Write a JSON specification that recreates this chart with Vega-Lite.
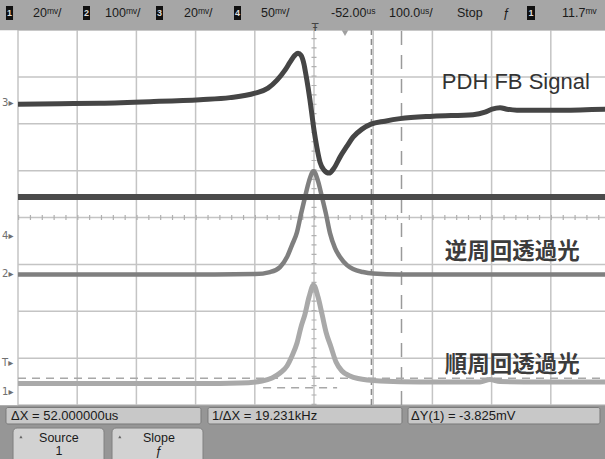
{
  "$schema": "https://vega.github.io/schema/vega-lite/v6.json",
  "width": 605,
  "height": 459,
  "autosize": {"type": "none"},
  "padding": 0,
  "background": "#ffffff",
  "config": {"view": {"stroke": null}},
  "datasets": {
    "vgrid": [{"x":0,"y":0,"y2":8},{"x":1,"y":0,"y2":8},{"x":2,"y":0,"y2":8},{"x":3,"y":0,"y2":8},{"x":4,"y":0,"y2":8},{"x":5,"y":0,"y2":8},{"x":6,"y":0,"y2":8},{"x":7,"y":0,"y2":8},{"x":8,"y":0,"y2":8},{"x":9,"y":0,"y2":8},{"x":10,"y":0,"y2":8}],
    "hgrid": [{"y":0,"x":0,"x2":10},{"y":1,"x":0,"x2":10},{"y":2,"x":0,"x2":10},{"y":3,"x":0,"x2":10},{"y":4,"x":0,"x2":10},{"y":5,"x":0,"x2":10},{"y":6,"x":0,"x2":10},{"y":7,"x":0,"x2":10},{"y":8,"x":0,"x2":10}],
    "traces": [
      {"ch":"PDH","x":0,"y":6.418},{"ch":"PDH","x":0.709,"y":6.429},{"ch":"PDH","x":1.385,"y":6.439},{"ch":"PDH","x":2.23,"y":6.471},{"ch":"PDH","x":3.074,"y":6.514},{"ch":"PDH","x":3.581,"y":6.557},{"ch":"PDH","x":4.003,"y":6.652},{"ch":"PDH","x":4.223,"y":6.759},{"ch":"PDH","x":4.375,"y":6.93},{"ch":"PDH","x":4.51,"y":7.143},{"ch":"PDH","x":4.595,"y":7.313},{"ch":"PDH","x":4.679,"y":7.463},{"ch":"PDH","x":4.73,"y":7.505},{"ch":"PDH","x":4.78,"y":7.463},{"ch":"PDH","x":4.831,"y":7.271},{"ch":"PDH","x":4.865,"y":7.036},{"ch":"PDH","x":4.899,"y":6.78},{"ch":"PDH","x":4.932,"y":6.503},{"ch":"PDH","x":4.966,"y":6.183},{"ch":"PDH","x":5.0,"y":5.864},{"ch":"PDH","x":5.051,"y":5.48},{"ch":"PDH","x":5.101,"y":5.181},{"ch":"PDH","x":5.169,"y":5.011},{"ch":"PDH","x":5.253,"y":4.947},{"ch":"PDH","x":5.338,"y":5.053},{"ch":"PDH","x":5.439,"y":5.288},{"ch":"PDH","x":5.557,"y":5.522},{"ch":"PDH","x":5.659,"y":5.714},{"ch":"PDH","x":5.811,"y":5.885},{"ch":"PDH","x":5.963,"y":5.991},{"ch":"PDH","x":6.199,"y":6.055},{"ch":"PDH","x":6.453,"y":6.109},{"ch":"PDH","x":7.01,"y":6.162},{"ch":"PDH","x":7.686,"y":6.194},{"ch":"PDH","x":7.889,"y":6.247},{"ch":"PDH","x":8.007,"y":6.311},{"ch":"PDH","x":8.142,"y":6.343},{"ch":"PDH","x":8.26,"y":6.311},{"ch":"PDH","x":8.429,"y":6.29},{"ch":"PDH","x":8.818,"y":6.29},{"ch":"PDH","x":9.274,"y":6.29},{"ch":"PDH","x":9.916,"y":6.311},{"ch":"PDH","x":10,"y":6.311},
      {"ch":"flat","x":0,"y":4.435},{"ch":"flat","x":2.5,"y":4.44},{"ch":"flat","x":5,"y":4.435},{"ch":"flat","x":7.5,"y":4.44},{"ch":"flat","x":10,"y":4.435},
      {"ch":"rev","x":0,"y":2.783},{"ch":"rev","x":3.074,"y":2.783},{"ch":"rev","x":4.003,"y":2.793},{"ch":"rev","x":4.257,"y":2.836},{"ch":"rev","x":4.426,"y":2.942},{"ch":"rev","x":4.544,"y":3.156},{"ch":"rev","x":4.628,"y":3.412},{"ch":"rev","x":4.713,"y":3.689},{"ch":"rev","x":4.78,"y":4.072},{"ch":"rev","x":4.848,"y":4.435},{"ch":"rev","x":4.916,"y":4.776},{"ch":"rev","x":4.992,"y":4.989},{"ch":"rev","x":5.068,"y":4.776},{"ch":"rev","x":5.135,"y":4.435},{"ch":"rev","x":5.203,"y":4.072},{"ch":"rev","x":5.27,"y":3.667},{"ch":"rev","x":5.355,"y":3.348},{"ch":"rev","x":5.439,"y":3.156},{"ch":"rev","x":5.557,"y":2.985},{"ch":"rev","x":5.659,"y":2.9},{"ch":"rev","x":5.828,"y":2.836},{"ch":"rev","x":5.997,"y":2.804},{"ch":"rev","x":6.453,"y":2.783},{"ch":"rev","x":10,"y":2.783},
      {"ch":"fwd","x":0,"y":0.458},{"ch":"fwd","x":3.074,"y":0.458},{"ch":"fwd","x":3.75,"y":0.469},{"ch":"fwd","x":4.122,"y":0.512},{"ch":"fwd","x":4.291,"y":0.576},{"ch":"fwd","x":4.426,"y":0.682},{"ch":"fwd","x":4.544,"y":0.832},{"ch":"fwd","x":4.628,"y":1.045},{"ch":"fwd","x":4.713,"y":1.322},{"ch":"fwd","x":4.78,"y":1.663},{"ch":"fwd","x":4.848,"y":1.94},{"ch":"fwd","x":4.916,"y":2.303},{"ch":"fwd","x":4.992,"y":2.559},{"ch":"fwd","x":5.068,"y":2.303},{"ch":"fwd","x":5.135,"y":1.94},{"ch":"fwd","x":5.203,"y":1.557},{"ch":"fwd","x":5.287,"y":1.237},{"ch":"fwd","x":5.372,"y":0.917},{"ch":"fwd","x":5.473,"y":0.725},{"ch":"fwd","x":5.608,"y":0.618},{"ch":"fwd","x":5.743,"y":0.565},{"ch":"fwd","x":6.115,"y":0.512},{"ch":"fwd","x":6.791,"y":0.49},{"ch":"fwd","x":7.804,"y":0.49},{"ch":"fwd","x":7.973,"y":0.544},{"ch":"fwd","x":8.142,"y":0.501},{"ch":"fwd","x":8.818,"y":0.49},{"ch":"fwd","x":10,"y":0.49}
    ],
    "chboxes": [
      {"x":-0.203,"x2":-0.084,"y":8.512,"y2":8.213,"cx":-0.1435,"cy":8.3625,"label":"1"},
      {"x":1.098,"x2":1.216,"y":8.512,"y2":8.213,"cx":1.157,"cy":8.3625,"label":"2"},
      {"x":2.331,"x2":2.449,"y":8.512,"y2":8.213,"cx":2.39,"cy":8.3625,"label":"3"},
      {"x":3.649,"x2":3.767,"y":8.512,"y2":8.213,"cx":3.708,"cy":8.3625,"label":"4"},
      {"x":8.598,"x2":8.733,"y":8.512,"y2":8.213,"cx":8.6655,"cy":8.3625,"label":"1"}
    ],
    "toptext": [
      {"x":0.253,"y":8.363,"label":"20ᵐᵛ/"},
      {"x":1.47,"y":8.363,"label":"100ᵐᵛ/"},
      {"x":2.804,"y":8.363,"label":"20ᵐᵛ/"},
      {"x":4.105,"y":8.363,"label":"50ᵐᵛ/"},
      {"x":5.287,"y":8.363,"label":"-52.00ᵘˢ"},
      {"x":6.267,"y":8.363,"label":"100.0ᵘˢ/"},
      {"x":7.416,"y":8.363,"label":"Stop"},
      {"x":8.193,"y":8.363,"label":"ƒ"},
      {"x":9.189,"y":8.363,"label":"11.7ᵐᵛ"}
    ],
    "markers": [
      {"x":-0.27,"y":6.44,"label":"3▸"},
      {"x":-0.27,"y":3.6,"label":"4▸"},
      {"x":-0.27,"y":2.79,"label":"2▸"},
      {"x":-0.27,"y":0.896,"label":"T▸"},
      {"x":-0.27,"y":0.277,"label":"1▸"}
    ],
    "statusboxes": [
      {"x":-0.203,"x2":3.091,"y":-0.053,"y2":-0.405,"tx":-0.118,"ty":-0.229,"label":"ΔX = 52.000000us"},
      {"x":3.209,"x2":6.486,"y":-0.053,"y2":-0.405,"tx":3.277,"ty":-0.229,"label":"1/ΔX = 19.231kHz"},
      {"x":6.588,"x2":9.831,"y":-0.053,"y2":-0.405,"tx":6.639,"ty":-0.229,"label":"ΔY(1) = -3.825mV"}
    ],
    "buttons": [
      {"x":-0.084,"x2":1.453,"y":-0.491,"y2":-1.3,"cx":0.69,"top":"Source","bottom":"1","ax":0.05},
      {"x":1.588,"x2":3.125,"y":-0.491,"y2":-1.3,"cx":2.38,"top":"Slope","bottom":"ƒ","ax":1.72}
    ],
    "labels": [
      {"x":7.16,"y":6.75,"label":"PDH FB Signal"},
      {"x":7.21,"y":3.27,"label":"逆周回透過光"},
      {"x":7.21,"y":0.86,"label":"順周回透過光"}
    ]
  },
  "encoding": {
    "x": {"field":"x","type":"quantitative","scale":{"domain":[-0.3041,9.9155],"nice":false,"zero":false},"axis":null},
    "y": {"field":"y","type":"quantitative","scale":{"domain":[-1.152,8.64],"nice":false,"zero":false},"axis":null}
  },
  "layer": [
    {"data":{"name":"vgrid"},"mark":{"type":"rule","color":"#c4c4c4","strokeWidth":1.5},"encoding":{"y2":{"field":"y2"}}},
    {"data":{"name":"hgrid"},"mark":{"type":"rule","color":"#c4c4c4","strokeWidth":1.5},"encoding":{"x2":{"field":"x2"}}},
    {"data":{"values":[{"x":0,"x2":10,"y":4}]},"mark":{"type":"rule","color":"#b0b0b0","strokeWidth":5,"strokeDash":[1.2,10.64]},"encoding":{"x2":{"field":"x2"}}},
    {"data":{"values":[{"x":5,"y":0,"y2":8}]},"mark":{"type":"rule","color":"#b0b0b0","strokeWidth":5,"strokeDash":[1.2,8.18]},"encoding":{"y2":{"field":"y2"}}},
    {"data":{"values":[{"x":5.97,"y":0,"y2":8}]},"mark":{"type":"rule","color":"#8a8a8a","strokeWidth":1.5,"strokeDash":[6,4]},"encoding":{"y2":{"field":"y2"}}},
    {"data":{"values":[{"x":6.478,"y":0,"y2":8}]},"mark":{"type":"rule","color":"#9a9a9a","strokeWidth":1.5,"strokeDash":[14,10]},"encoding":{"y2":{"field":"y2"}}},
    {"data":{"values":[{"x":0,"x2":10,"y":0.569}]},"mark":{"type":"rule","color":"#a8a8a8","strokeWidth":1.5,"strokeDash":[8,6]},"encoding":{"x2":{"field":"x2"}}},
    {"data":{"values":[{"x":4.14,"x2":5.39,"y":0.369}]},"mark":{"type":"rule","color":"#a8a8a8","strokeWidth":1.5,"strokeDash":[8,6]},"encoding":{"x2":{"field":"x2"}}},
    {"data":{"name":"traces"},"transform":[{"filter":"datum.ch == 'fwd'"}],"mark":{"type":"line","color":"#a9a9a9","strokeWidth":5,"interpolate":"monotone","clip":true}},
    {"data":{"name":"traces"},"transform":[{"filter":"datum.ch == 'rev'"}],"mark":{"type":"line","color":"#7f7f7f","strokeWidth":4.5,"interpolate":"monotone","clip":true}},
    {"data":{"name":"traces"},"transform":[{"filter":"datum.ch == 'flat'"}],"mark":{"type":"line","color":"#4b4b4b","strokeWidth":6,"clip":true}},
    {"data":{"name":"traces"},"transform":[{"filter":"datum.ch == 'PDH'"}],"mark":{"type":"line","color":"#454545","strokeWidth":5,"interpolate":"monotone","clip":true}},
    {"data":{"name":"labels"},"mark":{"type":"text","align":"left","baseline":"alphabetic","font":"Liberation Sans","fontSize":22,"color":"#333333"},"transform":[{"filter":"datum.label == 'PDH FB Signal'"}],"encoding":{"text":{"field":"label"}}},
    {"data":{"name":"labels"},"mark":{"type":"text","align":"left","baseline":"middle","font":"Noto Sans CJK JP","fontSize":22.5,"fontWeight":"bold","color":"#3c3c3c"},"transform":[{"filter":"datum.label != 'PDH FB Signal'"}],"encoding":{"text":{"field":"label"}}},
    {"data":{"name":"markers"},"mark":{"type":"text","align":"left","baseline":"middle","font":"DejaVu Sans","fontSize":10,"color":"#707070"},"encoding":{"text":{"field":"label"}}},
    {"data":{"values":[{"x":-0.3041,"x2":10,"y":7.996,"y2":8.64}]},"mark":{"type":"rect","color":"#a6a6a6"},"encoding":{"x2":{"field":"x2"},"y2":{"field":"y2"}}},
    {"data":{"name":"chboxes"},"mark":{"type":"rect","color":"#111111"},"encoding":{"x2":{"field":"x2"},"y2":{"field":"y2"}}},
    {"data":{"name":"chboxes"},"mark":{"type":"text","align":"center","baseline":"middle","font":"Liberation Sans","fontSize":9,"fontWeight":"bold","color":"#dddddd"},"encoding":{"x":{"field":"cx","type":"quantitative"},"y":{"field":"cy","type":"quantitative"},"text":{"field":"label"}}},
    {"data":{"name":"toptext"},"mark":{"type":"text","align":"left","baseline":"middle","font":"Liberation Sans","fontSize":12.5,"color":"#1a1a1a"},"encoding":{"text":{"field":"label"}}},
    {"data":{"values":[{"x":5.017,"y":8.05,"label":"Ŧ"}]},"mark":{"type":"text","align":"center","baseline":"middle","font":"DejaVu Sans","fontSize":11,"color":"#444444"},"encoding":{"text":{"field":"label"}}},
    {"data":{"values":[{"x":5.524,"y":7.93}]},"mark":{"type":"point","shape":"triangle-down","filled":true,"size":40,"color":"#777777"}},
    {"data":{"values":[{"x":-0.3041,"x2":10,"y":-1.152,"y2":-0.004}]},"mark":{"type":"rect","color":"#969696"},"encoding":{"x2":{"field":"x2"},"y2":{"field":"y2"}}},
    {"data":{"name":"statusboxes"},"mark":{"type":"rect","color":"#c8c8c8","stroke":"#7a7a7a","strokeWidth":1,"cornerRadius":2},"encoding":{"x2":{"field":"x2"},"y2":{"field":"y2"}}},
    {"data":{"name":"statusboxes"},"mark":{"type":"text","align":"left","baseline":"middle","font":"Liberation Sans","fontSize":13,"color":"#1a1a1a"},"encoding":{"x":{"field":"tx","type":"quantitative"},"y":{"field":"ty","type":"quantitative"},"text":{"field":"label"}}},
    {"data":{"name":"buttons"},"mark":{"type":"rect","color":"#d2d2d2","stroke":"#808080","strokeWidth":1,"cornerRadius":4},"encoding":{"x2":{"field":"x2"},"y2":{"field":"y2"}}},
    {"data":{"name":"buttons"},"mark":{"type":"text","align":"center","baseline":"middle","font":"Liberation Sans","fontSize":12.5,"color":"#1a1a1a"},"encoding":{"x":{"field":"cx","type":"quantitative"},"y":{"datum":-0.7},"text":{"field":"top"}}},
    {"data":{"name":"buttons"},"mark":{"type":"text","align":"center","baseline":"middle","font":"Liberation Sans","fontSize":12.5,"color":"#1a1a1a"},"encoding":{"x":{"field":"cx","type":"quantitative"},"y":{"datum":-0.99},"text":{"field":"bottom"}}},
    {"data":{"name":"buttons"},"mark":{"type":"point","shape":"triangle-up","filled":true,"size":10,"color":"#333333"},"encoding":{"x":{"field":"ax","type":"quantitative"},"y":{"datum":-0.68}}}
  ]
}
